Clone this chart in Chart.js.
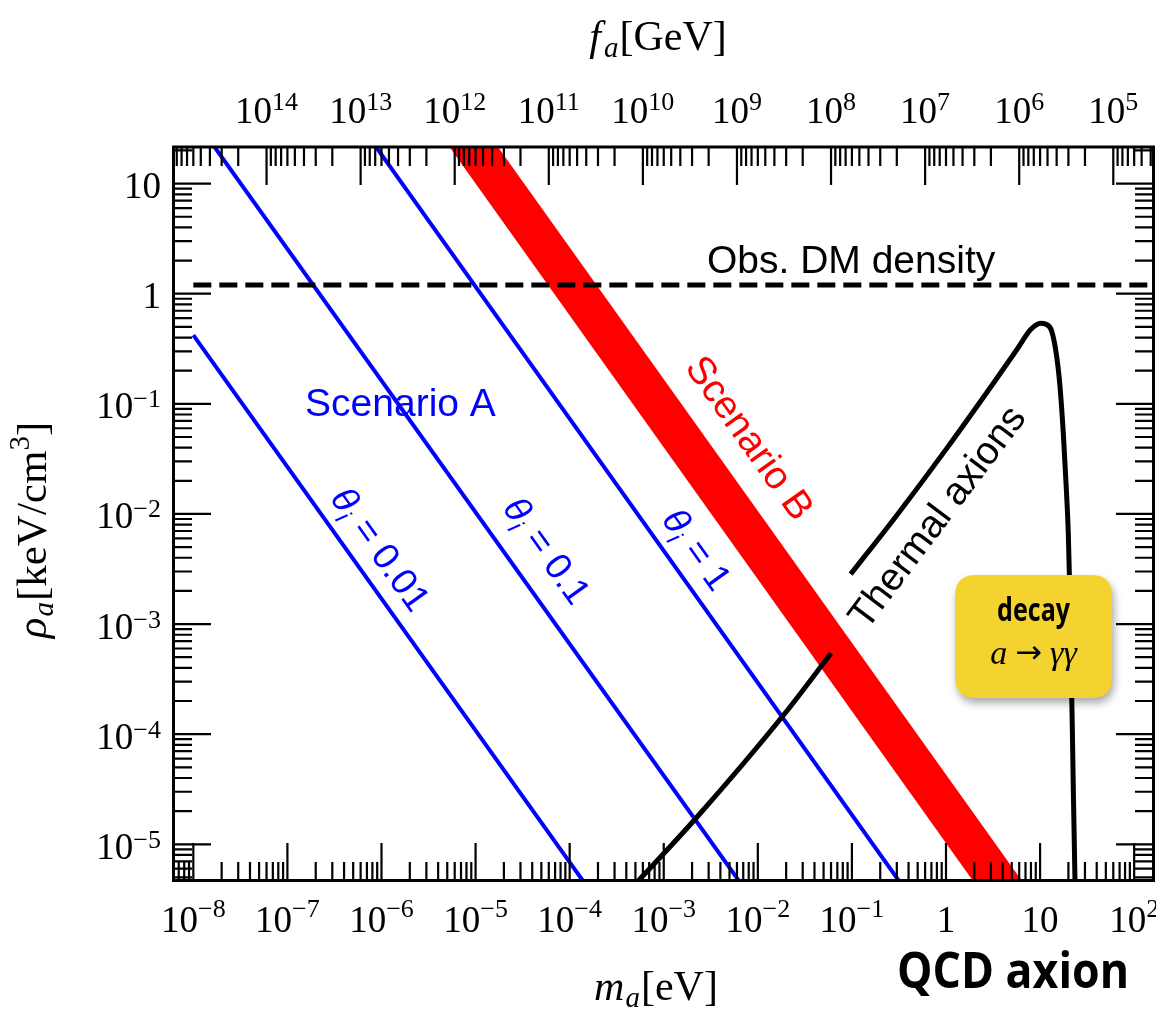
<!DOCTYPE html>
<html>
<head>
<meta charset="utf-8">
<title>QCD axion</title>
<script src="https://cdn.jsdelivr.net/npm/chart.js@4.4.1/dist/chart.umd.min.js"></script>
<style>
html,body{margin:0;padding:0;background:#ffffff;overflow:hidden;}
canvas{display:block;}
</style>
</head>
<body>
<canvas id="chart" width="1156" height="1013"></canvas>
<script>
// ---------------- data ----------------
// axis ranges
const massMin = 6.08e-9, massMax = 162.5;   // m_a [eV]
const rhoMin = 4.64e-6, rhoMax = 21.5;      // rho_a [keV/cm^3]
const faTimesMa = 6.0e6;                    // f_a[GeV] * m_a[eV]

// tick labels
const massTickValues = [1e-8, 1e-7, 1e-6, 1e-5, 1e-4, 1e-3, 1e-2, 1e-1, 1, 10, 100];
const massTickLabels = ['10^−8','10^−7','10^−6','10^−5','10^−4','10^−3','10^−2','10^−1','1','10','10^2'];
const faTickValues = [1e14, 1e13, 1e12, 1e11, 1e10, 1e9, 1e8, 1e7, 1e6, 1e5];
const faTickLabels = ['10^14','10^13','10^12','10^11','10^10','10^9','10^8','10^7','10^6','10^5'];
const rhoTickValues = [10, 1, 0.1, 0.01, 1e-3, 1e-4, 1e-5];
const rhoTickLabels = ['10','1','10^−1','10^−2','10^−3','10^−4','10^−5'];

// Scenario A: misalignment lines, one per initial angle theta_i
const thetaValues = ['0.01', '0.1', '1'];
const theta001Mass = [1e-8, 1e-3];
const theta001Rho  = [0.42, 4.37e-7];
const theta01Mass  = [1e-8, 1e-2];
const theta01Rho   = [40, 2.68e-6];
const theta1Mass   = [5e-7, 1];
const theta1Rho    = [42.1, 1.17e-6];

// Scenario B band (lower and upper edge)
const scenBMass    = [1e-6, 10];
const scenBRhoLow  = [158, 6.5e-7];
const scenBRhoHigh = [653, 2.73e-6];

// Observed dark-matter density
const obsDMMass = [1e-8, 200];
const obsDMRho  = [1.2, 1.2];

// Thermal axions (two branches)
const thermalLowMass = [3.89e-4, 2.26e-3, 0.01945, 0.060];
const thermalLowRho  = [3.47e-6, 1.77e-5, 1.55e-4, 5.44e-4];
const thermalHighMass = [0.097, 0.299, 1.019, 3.46, 5.65, 7.82, 8.83, 10.0, 11.59, 13.30, 15.03, 16.29, 17.66, 18.88, 19.95, 20.46, 22.03, 23.50, 24.27];
const thermalHighRho  = [2.84e-3, 9.70e-3, 3.94e-2, 0.170, 0.310, 0.466, 0.512, 0.540, 0.528, 0.456, 0.267, 0.1426, 0.0538, 0.0189, 6.65e-3, 2.88e-3, 1.09e-4, 4.65e-6, 3.16e-6];

// ---------------- helpers ----------------
const pts = (xs, ys) => xs.map((x, i) => ({x: x, y: ys[i]}));
const SERIF = "'Liberation Serif', 'Times New Roman', serif";
const SANS = "'Liberation Sans', Arial, sans-serif";
const BOLD_SANS = "'Open Sans', 'Noto Sans', sans-serif";

function drawPieces(ctx, pieces, x, y, align) {
  let w = 0;
  pieces.forEach(p => { ctx.font = p.font; p.w = ctx.measureText(p.t).width; w += p.w + (p.gap || 0); });
  let cx = align === 'center' ? x - w / 2 : (align === 'right' ? x - w : x);
  ctx.textAlign = 'left';
  ctx.textBaseline = 'alphabetic';
  pieces.forEach(p => {
    ctx.font = p.font;
    ctx.fillText(p.t, cx, y + (p.dy || 0));
    cx += p.w + (p.gap || 0);
  });
  return w;
}
function powPieces(label, fs, sfs, raise) {
  const parts = label.split('^');
  const arr = [{t: parts[0], font: fs + 'px ' + SERIF}];
  if (parts[1]) arr.push({t: parts[1], font: sfs + 'px ' + SERIF, dy: -raise});
  return arr;
}
function decadeTicks(min, max) {
  const out = [];
  for (let e = Math.floor(Math.log10(min)); e <= Math.ceil(Math.log10(max)); e++) {
    for (let k = 1; k <= 9; k++) {
      const v = k * Math.pow(10, e);
      if (v >= min * 0.9999 && v <= max * 1.0001) out.push({v: v, major: k === 1});
    }
  }
  return out;
}

// annotation texts, anchored in data coordinates
const rotatedNotes = [
  {m: 9.89e-7, rho: 4.84e-3, angle: 54.5, color: '#0000ff', theta: thetaValues[0]},
  {m: 5.82e-5, rho: 4.69e-3, angle: 54.5, color: '#0000ff', theta: thetaValues[1]},
  {m: 2.29e-3, rho: 4.80e-3, angle: 54.5, color: '#0000ff', theta: thetaValues[2]},
  {m: 8.26e-3, rho: 4.93e-2, angle: 54.5, color: '#ff0000', text: 'Scenario B'},
  {m: 0.794,   rho: 9.46e-3, angle: -53,  color: '#000000', text: 'Thermal axions'}
];

const overlay = {
  id: 'overlay',
  afterDraw(chart) {
    const ctx = chart.ctx, a = chart.chartArea;
    const xs = chart.scales.x, ys = chart.scales.y, xt = chart.scales.xTop;
    const MAJ = 38, MIN = 19;
    ctx.save();
    // ticks
    ctx.strokeStyle = '#000';
    ctx.lineWidth = 2.2;
    ctx.beginPath();
    decadeTicks(xs.min, xs.max).forEach(t => {
      const x = xs.getPixelForValue(t.v);
      ctx.moveTo(x, a.bottom); ctx.lineTo(x, a.bottom - (t.major ? MAJ : MIN));
    });
    decadeTicks(xt.min, xt.max).forEach(t => {
      const x = xt.getPixelForValue(t.v);
      ctx.moveTo(x, a.top); ctx.lineTo(x, a.top + (t.major ? MAJ : MIN));
    });
    decadeTicks(ys.min, ys.max).forEach(t => {
      const y = ys.getPixelForValue(t.v);
      const len = t.major ? MAJ : MIN;
      ctx.moveTo(a.left, y); ctx.lineTo(a.left + len, y);
      ctx.moveTo(a.right, y); ctx.lineTo(a.right - len, y);
    });
    ctx.stroke();
    // frame
    ctx.lineWidth = 3;
    ctx.strokeRect(a.left + 0.5, a.top, a.right - a.left - 1, a.bottom - a.top - 0.5);

    // tick labels
    ctx.fillStyle = '#000';
    massTickValues.forEach((v, i) => {
      drawPieces(ctx, powPieces(massTickLabels[i], 37, 26, 15), xs.getPixelForValue(v), a.bottom + 51, 'center');
    });
    faTickValues.forEach((v, i) => {
      drawPieces(ctx, powPieces(faTickLabels[i], 37, 26, 13), xt.getPixelForValue(v), a.top - 24, 'center');
    });
    rhoTickValues.forEach((v, i) => {
      drawPieces(ctx, powPieces(rhoTickLabels[i], 37, 26, 11), a.left - 12, ys.getPixelForValue(v) + 14.5, 'right');
    });

    // axis titles
    drawPieces(ctx, [
      {t: 'm', font: 'italic 42px ' + SERIF, gap: 1},
      {t: 'a', font: 'italic 29px ' + SERIF, dy: 7, gap: 1},
      {t: '[eV]', font: '42px ' + SERIF}
    ], 656, 1000, 'center');
    drawPieces(ctx, [
      {t: 'f', font: 'italic 42px ' + SERIF, gap: 3},
      {t: 'a', font: 'italic 29px ' + SERIF, dy: 7, gap: 1},
      {t: '[GeV]', font: '42px ' + SERIF}
    ], 658, 50, 'center');
    ctx.save();
    ctx.translate(46, 530);
    ctx.rotate(-Math.PI / 2);
    drawPieces(ctx, [
      {t: 'ρ', font: 'italic 43px ' + SERIF, gap: 1},
      {t: 'a', font: 'italic 29px ' + SERIF, dy: 7, gap: 1},
      {t: '[keV/cm', font: '43px ' + SERIF},
      {t: '3', font: '29px ' + SERIF, dy: -17},
      {t: ']', font: '43px ' + SERIF}
    ], 0, 0, 'center');
    ctx.restore();

    // horizontal annotations
    ctx.fillStyle = '#000';
    drawPieces(ctx, [{t: 'Obs. DM density', font: '39px ' + SANS}], xs.getPixelForValue(2.88e-3), ys.getPixelForValue(1.535), 'left');
    ctx.fillStyle = '#0000ff';
    drawPieces(ctx, [{t: 'Scenario A', font: '39px ' + SANS}], xs.getPixelForValue(1.54e-7), ys.getPixelForValue(0.0773), 'left');

    // rotated annotations
    rotatedNotes.forEach(n => {
      ctx.save();
      ctx.translate(xs.getPixelForValue(n.m), ys.getPixelForValue(n.rho));
      ctx.rotate(n.angle * Math.PI / 180);
      ctx.fillStyle = n.color;
      let pieces;
      if (n.theta !== undefined) {
        pieces = [
          {t: 'θ', font: 'italic 37px ' + SANS},
          {t: 'i', font: 'italic 25px ' + SANS, dy: 8, gap: 2},
          {t: ' = ' + n.theta, font: '37px ' + SANS}
        ];
      } else {
        pieces = [{t: n.text, font: '39px ' + SANS}];
      }
      drawPieces(ctx, pieces, 0, 13, 'center');
      ctx.restore();
    });

    // yellow "decay" box
    const bcx = xs.getPixelForValue(8.53), bcy = ys.getPixelForValue(7.69e-4);
    const bw = 157, bh = 123, r = 21;
    const bx = bcx - bw / 2, by = bcy - bh / 2;
    ctx.save();
    ctx.shadowColor = 'rgba(0,0,0,0.35)';
    ctx.shadowBlur = 9;
    ctx.shadowOffsetX = 2;
    ctx.shadowOffsetY = 5;
    ctx.fillStyle = '#f4d22f';
    ctx.beginPath();
    ctx.moveTo(bx + r, by);
    ctx.lineTo(bx + bw - r, by);
    ctx.quadraticCurveTo(bx + bw, by, bx + bw, by + r);
    ctx.lineTo(bx + bw, by + bh - r);
    ctx.quadraticCurveTo(bx + bw, by + bh, bx + bw - r, by + bh);
    ctx.lineTo(bx + r, by + bh);
    ctx.quadraticCurveTo(bx, by + bh, bx, by + bh - r);
    ctx.lineTo(bx, by + r);
    ctx.quadraticCurveTo(bx, by, bx + r, by);
    ctx.closePath();
    ctx.fill();
    ctx.restore();

    ctx.fillStyle = '#000';
    // "decay" bold condensed
    ctx.save();
    ctx.font = 'bold 33px ' + BOLD_SANS;
    let w = ctx.measureText('decay').width;
    ctx.translate(bcx, by + 46);
    ctx.scale(73 / w, 1);
    ctx.textAlign = 'center';
    ctx.textBaseline = 'alphabetic';
    ctx.fillText('decay', 0, 0);
    ctx.restore();
    drawPieces(ctx, [
      {t: 'a', font: 'italic 34px ' + SERIF, gap: 8},
      {t: '→', font: '32px "DejaVu Sans", sans-serif', gap: 8, dy: -1},
      {t: 'γγ', font: 'italic 34px ' + SERIF}
    ], bcx, by + 89, 'center');

    // "QCD axion" title
    ctx.save();
    ctx.font = 'bold 50px ' + BOLD_SANS;
    w = ctx.measureText('QCD axion').width;
    ctx.translate(897, 988);
    ctx.scale(232 / w, 1);
    ctx.textAlign = 'left';
    ctx.textBaseline = 'alphabetic';
    ctx.fillText('QCD axion', 0, 0);
    ctx.restore();

    ctx.restore();
  }
};

const lineDs = (data, color, width, order, extra) => Object.assign({
  data: data, borderColor: color, borderWidth: width, pointRadius: 0,
  pointHoverRadius: 0, fill: false, tension: 0, order: order
}, extra || {});

const chart = new Chart(document.getElementById('chart'), {
  type: 'line',
  data: {
    datasets: [
      lineDs(pts(scenBMass, scenBRhoLow), 'rgba(0,0,0,0)', 0, 5),
      lineDs(pts(scenBMass, scenBRhoHigh), 'rgba(0,0,0,0)', 0, 4, {fill: {target: 0}, backgroundColor: '#ff0000'}),
      lineDs(pts(theta001Mass, theta001Rho), '#0000ff', 4, 3),
      lineDs(pts(theta01Mass, theta01Rho), '#0000ff', 4, 3),
      lineDs(pts(theta1Mass, theta1Rho), '#0000ff', 4, 3),
      lineDs(pts(thermalLowMass, thermalLowRho), '#000000', 5, 2, {cubicInterpolationMode: 'monotone'}),
      lineDs(pts(thermalHighMass, thermalHighRho), '#000000', 5, 2, {cubicInterpolationMode: 'monotone'}),
      lineDs(pts(obsDMMass, obsDMRho), '#000000', 5, 1, {borderDash: [18, 8]})
    ]
  },
  options: {
    responsive: false,
    devicePixelRatio: 1,
    animation: false,
    events: [],
    layout: {padding: {left: 173, top: 147, right: 2, bottom: 132}},
    elements: {line: {capBezierPoints: false}},
    plugins: {legend: {display: false}, tooltip: {enabled: false}},
    scales: {
      x: {type: 'logarithmic', min: massMin, max: massMax, display: false},
      xTop: {type: 'logarithmic', axis: 'x', position: 'top', reverse: true,
             min: faTimesMa / massMax, max: faTimesMa / massMin, display: false},
      y: {type: 'logarithmic', min: rhoMin, max: rhoMax, display: false}
    }
  },
  plugins: [overlay]
});
</script>
</body>
</html>
